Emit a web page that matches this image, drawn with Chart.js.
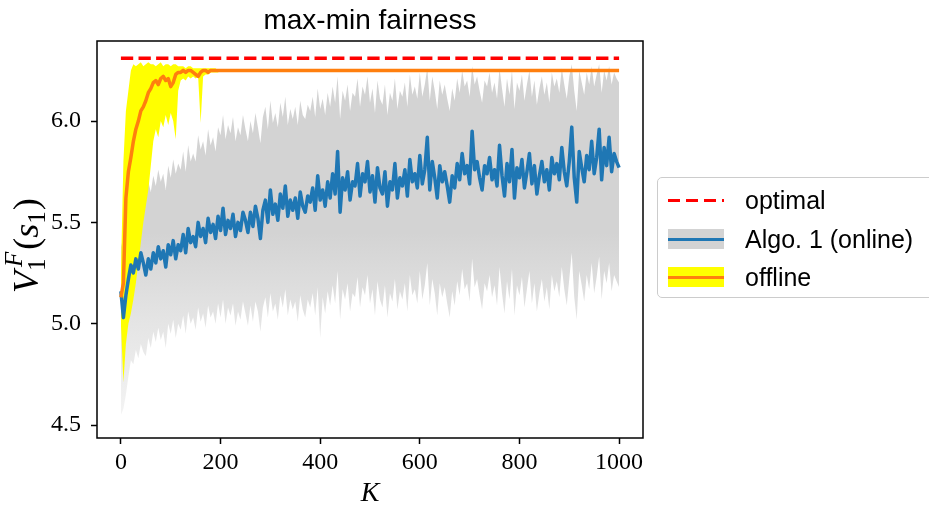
<!DOCTYPE html>
<html>
<head>
<meta charset="utf-8">
<script src="https://cdn.jsdelivr.net/npm/chart.js@4.4.0/dist/chart.umd.min.js"></script>
<style>
  body { margin: 0; background: #fff; }
  #wrap { position: relative; width: 929px; height: 510px; overflow: hidden; }
  #plot { position: absolute; left: 0; top: 0; }
  #legend {
    position: absolute; left: 657px; top: 177px; width: 300px; height: 121px;
    border: 1px solid #cccccc; border-radius: 5px; box-sizing: border-box;
    font-family: "Liberation Sans", sans-serif; font-size: 25px; color: #000;
  }
  .row { position: absolute; left: 10px; height: 30px; display: flex; align-items: center; white-space: nowrap; }
  .sw { position: relative; width: 56px; height: 20px; flex: none; }
  .sw i { position: absolute; left: 0; right: 0; top: 8.5px; height: 3px; }
  .lab { margin-left: 21px; }
</style>
</head>
<body>
<div id="wrap">
  <canvas id="plot" width="929" height="510"></canvas>
  <div id="legend">
    <div class="row" style="top:7px">
      <div class="sw"><i style="background:repeating-linear-gradient(to right,#ff0000 0 12px,transparent 12px 18px)"></i></div>
      <span class="lab">optimal</span>
    </div>
    <div class="row" style="top:46px">
      <div class="sw" style="background:#d3d3d3"><i style="background:#1f77b4"></i></div>
      <span class="lab">Algo. 1 (online)</span>
    </div>
    <div class="row" style="top:84px">
      <div class="sw" style="background:#ffff00"><i style="background:#ff7f0e"></i></div>
      <span class="lab">offline</span>
    </div>
  </div>
</div>
<script>
const titleText = 'max-min fairness';
const xLabel = 'K';

// evaluation every 5 episodes
const kStep = 5;
const optimalValue = 6.31;

// online algorithm: mean value and shaded spread, K = 0, 5, ..., 1000
const onlineMean = [
  5.16, 5.03, 5.14, 5.22, 5.29, 5.25, 5.32, 5.27, 5.35, 5.30,
  5.24, 5.32, 5.27, 5.35, 5.30, 5.38, 5.32, 5.36, 5.28, 5.39,
  5.34, 5.41, 5.32, 5.39, 5.36, 5.44, 5.35, 5.47, 5.40, 5.43,
  5.38, 5.50, 5.43, 5.47, 5.40, 5.52, 5.45, 5.49, 5.42, 5.53,
  5.46, 5.57, 5.44, 5.51, 5.47, 5.54, 5.43, 5.50, 5.46, 5.55,
  5.51, 5.45, 5.55, 5.48, 5.58, 5.52, 5.42, 5.56, 5.61, 5.50,
  5.66, 5.54, 5.59, 5.51, 5.64, 5.57, 5.68, 5.53, 5.61, 5.56,
  5.62, 5.52, 5.65, 5.58, 5.55, 5.63, 5.60, 5.67, 5.56, 5.73,
  5.61, 5.66, 5.58, 5.70, 5.62, 5.74, 5.64, 5.85, 5.55, 5.72,
  5.66, 5.75, 5.61, 5.70, 5.68, 5.79, 5.63, 5.74, 5.70, 5.80,
  5.65, 5.73, 5.60, 5.77, 5.67, 5.64, 5.75, 5.58, 5.70, 5.66,
  5.79, 5.62, 5.72, 5.68, 5.76, 5.63, 5.81, 5.70, 5.74, 5.67,
  5.83, 5.69, 5.76, 5.92, 5.66, 5.80, 5.72, 5.62, 5.78, 5.70,
  5.75, 5.68, 5.60, 5.73, 5.67, 5.79, 5.71, 5.84, 5.74, 5.78,
  5.69, 5.95, 5.76, 5.80, 5.72, 5.66, 5.78, 5.74, 5.82, 5.71,
  5.76, 5.68, 5.88, 5.73, 5.63, 5.79, 5.70, 5.86, 5.62, 5.77,
  5.72, 5.81, 5.67, 5.75, 5.84, 5.69, 5.78, 5.64, 5.73, 5.80,
  5.70, 5.76, 5.66, 5.82, 5.74, 5.79, 5.71, 5.87, 5.75, 5.68,
  5.80, 5.97, 5.72, 5.60, 5.85, 5.77, 5.70, 5.83, 5.76, 5.90,
  5.74, 5.82, 5.96, 5.71, 5.87, 5.78, 5.92, 5.75, 5.84, 5.80,
  5.77
];
const onlineUpper = [
  5.40, 5.35, 5.48, 5.55, 5.62, 5.58, 5.66, 5.60, 5.68, 5.63,
  5.62, 5.70, 5.65, 5.73, 5.68, 5.76, 5.70, 5.74, 5.66, 5.78,
  5.72, 5.81, 5.74, 5.79, 5.76, 5.85, 5.75, 5.88, 5.80, 5.84,
  5.80, 5.93, 5.86, 5.90, 5.83, 5.96, 5.88, 5.92, 5.85, 5.97,
  5.93, 6.03, 5.91, 5.98, 5.94, 6.02, 5.90, 5.97, 5.93, 6.03,
  5.96, 5.90, 6.00, 5.94, 6.04, 5.97, 5.89, 6.02, 6.07, 5.96,
  6.10, 5.99, 6.04, 5.97, 6.09, 6.02, 6.12, 5.98, 6.06, 6.01,
  6.07, 5.98, 6.10, 6.03, 6.01, 6.08, 6.05, 6.12, 6.02, 6.16,
  6.06, 6.11, 6.03, 6.14, 6.07, 6.17, 6.09, 6.22, 6.01, 6.15,
  6.10, 6.18, 6.05, 6.14, 6.12, 6.21, 6.07, 6.17, 6.13, 6.22,
  6.09, 6.16, 6.04, 6.20, 6.11, 6.08, 6.18, 6.03, 6.14, 6.10,
  6.21, 6.06, 6.15, 6.12, 6.19, 6.07, 6.23, 6.13, 6.17, 6.11,
  6.24, 6.12, 6.18, 6.26, 6.10, 6.22, 6.15, 6.06, 6.20, 6.13,
  6.18, 6.11, 6.05, 6.16, 6.10, 6.21, 6.14, 6.25, 6.17, 6.20,
  6.12, 6.27, 6.18, 6.22, 6.15, 6.09, 6.20, 6.17, 6.24, 6.14,
  6.19, 6.11, 6.26, 6.16, 6.07, 6.21, 6.13, 6.25, 6.06, 6.19,
  6.15, 6.23, 6.10, 6.18, 6.25, 6.12, 6.20, 6.08, 6.16, 6.22,
  6.13, 6.19, 6.09, 6.24, 6.17, 6.21, 6.14, 6.26, 6.18, 6.11,
  6.22, 6.28, 6.15, 6.05, 6.25, 6.19, 6.13, 6.24, 6.18, 6.27,
  6.17, 6.23, 6.28, 6.14, 6.25, 6.20, 6.27, 6.18, 6.24, 6.21,
  6.19
];
const onlineLower = [
  4.55, 4.58, 4.65, 4.74, 4.82, 4.80, 4.87, 4.83, 4.90, 4.86,
  4.84, 4.93, 4.88, 4.96, 4.91, 4.98, 4.92, 4.96, 4.88, 5.00,
  4.95, 5.02, 4.93, 5.00, 4.97, 5.04, 4.95, 5.06, 5.00, 5.03,
  4.97, 5.08, 5.01, 5.05, 4.98, 5.09, 5.03, 5.06, 5.00, 5.10,
  5.03, 5.12, 5.00, 5.08, 5.04, 5.10, 4.99, 5.06, 5.02, 5.11,
  5.05, 4.99, 5.09, 5.01, 5.11, 5.06, 4.96, 5.08, 5.13, 5.03,
  5.15, 5.06, 5.10, 5.02, 5.14, 5.08, 5.17, 5.04, 5.12, 5.07,
  5.11, 5.01, 5.14, 5.07, 5.03, 5.12, 5.08, 5.15, 5.04, 5.18,
  4.93, 5.13, 5.05, 5.16, 5.09, 5.19, 5.10, 5.26, 5.02, 5.17,
  5.12, 5.20, 5.06, 5.15, 5.13, 5.23, 5.08, 5.18, 5.14, 5.24,
  5.10, 5.17, 5.04, 5.21, 5.12, 5.08, 5.19, 5.03, 5.15, 5.11,
  5.22, 5.07, 5.16, 5.12, 5.20, 5.06, 5.24, 5.14, 5.17, 5.10,
  5.26, 5.12, 5.19, 5.30, 5.09, 5.22, 5.15, 5.04, 5.20, 5.13,
  5.18, 5.10, 5.03, 5.16, 5.09, 5.21, 5.14, 5.27, 5.17, 5.20,
  5.11, 5.32, 5.18, 5.22, 5.14, 5.07, 5.20, 5.16, 5.24, 5.13,
  5.19, 5.09, 5.28, 5.15, 5.05, 5.21, 5.12, 5.27, 5.04, 5.19,
  5.14, 5.23, 5.08, 5.17, 5.26, 5.10, 5.20, 5.06, 5.15, 5.22,
  5.11, 5.18, 5.07, 5.24, 5.16, 5.21, 5.13, 5.28, 5.17, 5.09,
  5.22, 5.35, 5.13, 5.02, 5.26, 5.19, 5.11, 5.24, 5.17, 5.30,
  5.15, 5.23, 5.33, 5.12, 5.26, 5.20, 5.30, 5.16, 5.24, 5.21,
  5.18
];

// offline baseline, K = 0, 5, ..., 200; it stays at its final value afterwards
const offlineMean = [
  5.13, 5.20, 5.62, 5.75, 5.82, 5.90, 5.96, 6.00, 6.05, 6.07,
  6.10, 6.14, 6.16, 6.19, 6.20, 6.18, 6.21, 6.22, 6.20, 6.21,
  6.17, 6.19, 6.23, 6.24, 6.24, 6.25, 6.24, 6.25, 6.25, 6.24,
  6.23, 6.22, 6.24, 6.25, 6.25, 6.24, 6.25, 6.25, 6.25, 6.25,
  6.25
];
const offlineUpper = [
  5.25, 5.80, 6.05, 6.15, 6.25, 6.28, 6.27, 6.28, 6.29, 6.27,
  6.28, 6.29, 6.28, 6.28, 6.27, 6.28, 6.29, 6.27, 6.28, 6.28,
  6.27, 6.28, 6.28, 6.27, 6.27, 6.27, 6.26, 6.27, 6.27, 6.26,
  6.26, 6.26, 6.26, 6.26, 6.26, 6.26, 6.26, 6.26, 6.26, 6.25,
  6.25
];
const offlineLower = [
  5.00, 4.71, 4.90, 5.00, 5.05, 5.12, 5.20, 5.30, 5.40, 5.50,
  5.58, 5.66, 5.78, 5.90, 5.96, 5.92, 6.00, 5.97, 6.03, 5.98,
  6.04, 6.00, 5.91, 6.15, 6.20, 6.21, 6.20, 6.22, 6.21, 6.22,
  6.21, 6.22, 5.99, 6.22, 6.23, 6.23, 6.24, 6.24, 6.24, 6.24,
  6.25
];
const offlineFinal = 6.25;
const lastK = 1000;

const xTicks = [0, 200, 400, 600, 800, 1000];
const yTicks = [4.5, 5.0, 5.5, 6.0];

const toPoints = ys => ys.map((y, i) => ({ x: i * kStep, y }));

// spread shading fades out toward the bottom of the axes
function spreadShade(context) {
  const chart = context.chart;
  if (!chart.chartArea) return '#d3d3d3';
  const y = chart.scales.y;
  const g = chart.ctx.createLinearGradient(0, y.getPixelForValue(5.45), 0, y.getPixelForValue(4.5));
  g.addColorStop(0, '#d3d3d3');
  g.addColorStop(0.45, '#e4e4e4');
  g.addColorStop(1, '#f5f5f5');
  return g;
}

// frame, title and axis labels
const decor = {
  id: 'decor',
  afterDraw(chart) {
    const { ctx, chartArea: a } = chart;
    ctx.save();
    ctx.strokeStyle = '#000';
    ctx.lineWidth = 1.5;
    ctx.strokeRect(a.left, a.top, a.right - a.left, a.bottom - a.top);

    ctx.fillStyle = '#000';
    ctx.textAlign = 'center';
    ctx.textBaseline = 'alphabetic';
    ctx.font = '28px "Liberation Sans"';
    ctx.fillText(titleText, (a.left + a.right) / 2, 29);

    ctx.font = 'italic 28px "Liberation Serif"';
    ctx.fillText(xLabel, (a.left + a.right) / 2, 501);

    // V_1^F(s_1), rotated
    ctx.translate(38, 293);
    ctx.rotate(-Math.PI / 2);
    ctx.textAlign = 'left';
    const face = 'px "Liberation Serif"';
    let x = 0;
    const put = (t, font, dy) => { ctx.font = font; ctx.fillText(t, x, dy); return ctx.measureText(t).width; };
    x += put('V', 'italic 36' + face, 0);
    const wSub = put('1', '25' + face, 7);
    x += 4;
    const wSup = put('F', 'italic 25' + face, -16);
    x += Math.max(wSub, wSup) + 2;
    x += put('(', '36' + face, 0);
    x += put('s', 'italic 36' + face, 0);
    x += put('1', '25' + face, 7) + 1;
    put(')', '36' + face, 0);
    ctx.restore();
  }
};

const tickFont = { family: 'Liberation Serif', size: 24 };
const tickGrid = { display: true, drawOnChartArea: false, drawTicks: true, tickLength: 6, tickWidth: 1.5, tickColor: '#000' };

new Chart(document.getElementById('plot'), {
  type: 'line',
  data: {
    datasets: [
      { data: toPoints(onlineUpper), fill: 1, backgroundColor: spreadShade, borderWidth: 0, pointRadius: 0, order: 5 },
      { data: toPoints(onlineLower), fill: false, borderWidth: 0, pointRadius: 0, order: 5 },
      { data: toPoints(offlineUpper), fill: 3, backgroundColor: '#ffff00', borderWidth: 0, pointRadius: 0, order: 4 },
      { data: toPoints(offlineLower), fill: false, borderWidth: 0, pointRadius: 0, order: 4 },
      { data: toPoints(onlineMean), borderColor: '#1f77b4', borderWidth: 3.5, pointRadius: 0, borderJoinStyle: 'round', fill: false, order: 2 },
      { data: toPoints(offlineMean).concat([{ x: lastK, y: offlineFinal }]), borderColor: '#ff7f0e', borderWidth: 3.5, pointRadius: 0, borderJoinStyle: 'round', fill: false, order: 1 },
      { data: [{ x: 0, y: optimalValue }, { x: lastK, y: optimalValue }], borderColor: '#ff0000', borderWidth: 3.3, borderDash: [12.3, 5.3], pointRadius: 0, fill: false, order: 0 }
    ]
  },
  options: {
    responsive: false,
    animation: false,
    devicePixelRatio: 1,
    layout: { padding: { left: 0, top: 41, right: 286, bottom: 0 } },
    plugins: { legend: { display: false }, tooltip: { enabled: false }, title: { display: false } },
    scales: {
      x: {
        type: 'linear', min: -48, max: 1048,
        afterBuildTicks: s => { s.ticks = xTicks.map(v => ({ value: v })); },
        afterFit: s => { s.height = 72; },
        grid: tickGrid,
        border: { display: false },
        ticks: { color: '#000', font: tickFont, padding: 4, maxRotation: 0, autoSkip: false, callback: v => String(v) }
      },
      y: {
        min: 4.436, max: 6.395,
        afterBuildTicks: s => { s.ticks = yTicks.map(v => ({ value: v })); },
        afterFit: s => { s.width = 97; },
        grid: tickGrid,
        border: { display: false },
        ticks: { color: '#000', font: tickFont, padding: 10, autoSkip: false, callback: v => v.toFixed(1) }
      }
    }
  },
  plugins: [decor]
});
</script>
</body>
</html>
